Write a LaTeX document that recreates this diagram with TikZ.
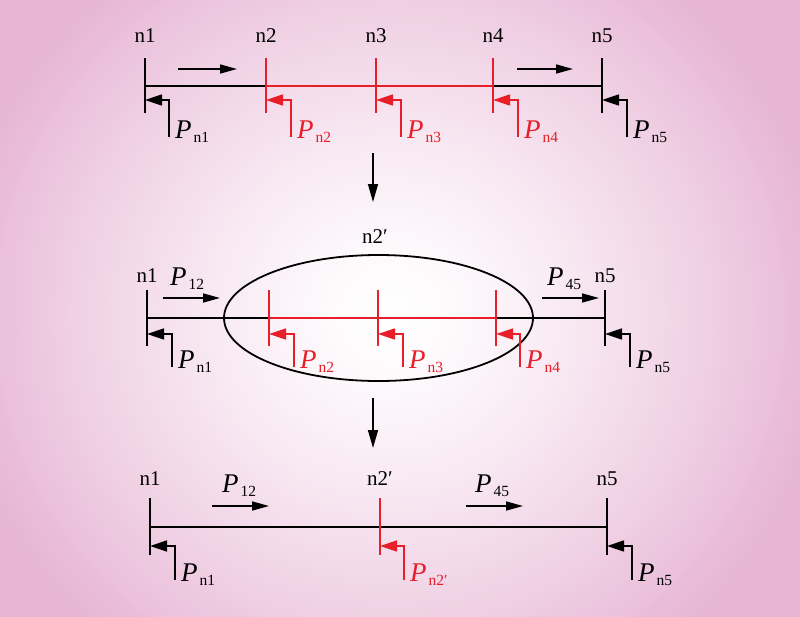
\documentclass[tikz,border=0pt]{standalone}
\usepackage{fontspec}
\setmainfont{Liberation Serif}
\usetikzlibrary{arrows.meta,shapes.geometric}
\definecolor{bgpink}{RGB}{231,182,213}
\definecolor{pred}{RGB}{232,30,40}
\newcommand{\Plab}[1]{{\fontsize{27}{27}\selectfont\itshape P}\kern2pt\raisebox{-4pt}{\fontsize{15.5}{15.5}\selectfont #1}}
\newcommand{\pr}{\char"2032}
\begin{document}
\begin{tikzpicture}[x=1pt,y=1pt,
  bus/.style={line width=2pt},
  busv/.style={line width=1.8pt},
  flow/.style={line width=1.6pt,-{Triangle[length=17pt,width=9pt]}},
  inj/.style={line width=1.6pt,-{Triangle[length=17pt,width=11pt]}},
  downarr/.style={line width=1.6pt,-{Triangle[length=18pt,width=10pt]}},
  nlab/.style={anchor=base,inner sep=0pt,font=\fontsize{21}{21}\selectfont},
  plab/.style={anchor=base west,inner sep=0pt},
  hot/.style={color=pred}]
\useasboundingbox (0,0) rectangle (800,-616);
% background radial gradient
\fill[bgpink] (-10,10) rectangle (810,-626);
\foreach \i in {80,79,...,1}{
  \pgfmathsetmacro\f{\i/80}
  \pgfmathsetmacro\m{100*(\f)^1.35}
  \fill[bgpink!\m!white] (390,-315) ellipse [x radius={440*\f}, y radius={425*\f}];
}
\begin{scope}[y=-1pt]
% ---------------- top row ----------------
\coordinate (T1) at (145,86);
\coordinate (T2) at (266,86);
\coordinate (T3) at (376,86);
\coordinate (T4) at (493,86);
\coordinate (T5) at (602,86);
\draw[bus] (T1) -- (T2);
\draw[bus,hot] (T2) -- (T4);
\draw[bus] (T4) -- (T5);
\draw[busv] ([yshift=28pt]T1) -- ([yshift=-27pt]T1);
\draw[busv,hot] ([yshift=28pt]T2) -- ([yshift=-27pt]T2);
\draw[busv,hot] ([yshift=28pt]T3) -- ([yshift=-27pt]T3);
\draw[busv,hot] ([yshift=28pt]T4) -- ([yshift=-27pt]T4);
\draw[busv] ([yshift=28pt]T5) -- ([yshift=-27pt]T5);
\node[nlab] (lT1) at ([yshift=44pt]T1) {n1};
\node[nlab] (lT2) at ([yshift=44pt]T2) {n2};
\node[nlab] (lT3) at ([yshift=44pt]T3) {n3};
\node[nlab] (lT4) at ([yshift=44pt]T4) {n4};
\node[nlab] (lT5) at ([yshift=44pt]T5) {n5};
\coordinate (fTa) at (178,69); \coordinate (fTb) at (237,69);
\coordinate (fTc) at (517,69); \coordinate (fTd) at (573,69);
\draw[flow] (fTa) -- (fTb);
\draw[flow] (fTc) -- (fTd);
% injections
\coordinate (iT1) at (169,137); \coordinate (cT1) at (169,100);
\coordinate (iT2) at (291,137); \coordinate (cT2) at (291,100);
\coordinate (iT3) at (401,137); \coordinate (cT3) at (401,100);
\coordinate (iT4) at (518,137); \coordinate (cT4) at (518,100);
\coordinate (iT5) at (627,137); \coordinate (cT5) at (627,100);
\draw[inj] (iT1) -- (cT1) -- (cT1 -| T1);
\draw[inj,hot] (iT2) -- (cT2) -- (cT2 -| T2);
\draw[inj,hot] (iT3) -- (cT3) -- (cT3 -| T3);
\draw[inj,hot] (iT4) -- (cT4) -- (cT4 -| T4);
\draw[inj] (iT5) -- (cT5) -- (cT5 -| T5);
\node[plab] (pT1) at ([xshift=6pt,yshift=-1pt]iT1) {\Plab{n1}};
\node[plab,hot] (pT2) at ([xshift=6pt,yshift=-1pt]iT2) {\Plab{n2}};
\node[plab,hot] (pT3) at ([xshift=6pt,yshift=-1pt]iT3) {\Plab{n3}};
\node[plab,hot] (pT4) at ([xshift=6pt,yshift=-1pt]iT4) {\Plab{n4}};
\node[plab] (pT5) at ([xshift=6pt,yshift=-1pt]iT5) {\Plab{n5}};

% down arrow 1
\coordinate (d1a) at (373,153); \coordinate (d1b) at (373,202);
\draw[downarr] (d1a) -- (d1b);

% ---------------- middle row ----------------
\coordinate (M1) at (147,318);
\coordinate (M2) at (269,318);
\coordinate (M3) at (378,318);
\coordinate (M4) at (496,318);
\coordinate (M5) at (605,318);
\draw[bus] (M1) -- (M2);
\draw[bus,hot] (M2) -- (M4);
\draw[bus] (M4) -- (M5);
\draw[busv] ([yshift=28pt]M1) -- ([yshift=-28pt]M1);
\draw[busv,hot] ([yshift=28pt]M2) -- ([yshift=-28pt]M2);
\draw[busv,hot] ([yshift=28pt]M3) -- ([yshift=-28pt]M3);
\draw[busv,hot] ([yshift=28pt]M4) -- ([yshift=-28pt]M4);
\draw[busv] ([yshift=28pt]M5) -- ([yshift=-28pt]M5);
\node[nlab] (lM1) at ([yshift=36pt]M1) {n1};
\node[nlab] (lM5) at ([yshift=36pt]M5) {n5};
\node[draw,ellipse,line width=1.8pt,minimum width=309pt,minimum height=126pt,inner sep=0pt] (E) at (378.5,318) {};
\node[nlab] (lE) at (375,243) {n2\pr};
\coordinate (fMa) at (163,298); \coordinate (fMb) at (220,298);
\coordinate (fMc) at (542,298); \coordinate (fMd) at (599,298);
\draw[flow] (fMa) -- (fMb);
\draw[flow] (fMc) -- (fMd);
\node[plab] (p12M) at (170,285) {\Plab{12}};
\node[plab] (p45M) at (547,285) {\Plab{45}};
\coordinate (iM1) at (172,367); \coordinate (cM1) at (172,334);
\coordinate (iM2) at (294,367); \coordinate (cM2) at (294,334);
\coordinate (iM3) at (403,367); \coordinate (cM3) at (403,334);
\coordinate (iM4) at (520,367); \coordinate (cM4) at (520,334);
\coordinate (iM5) at (630,367); \coordinate (cM5) at (630,334);
\draw[inj] (iM1) -- (cM1) -- (cM1 -| M1);
\draw[inj,hot] (iM2) -- (cM2) -- (cM2 -| M2);
\draw[inj,hot] (iM3) -- (cM3) -- (cM3 -| M3);
\draw[inj,hot] (iM4) -- (cM4) -- (cM4 -| M4);
\draw[inj] (iM5) -- (cM5) -- (cM5 -| M5);
\node[plab] (pM1) at ([xshift=6pt,yshift=-1pt]iM1) {\Plab{n1}};
\node[plab,hot] (pM2) at ([xshift=6pt,yshift=-1pt]iM2) {\Plab{n2}};
\node[plab,hot] (pM3) at ([xshift=6pt,yshift=-1pt]iM3) {\Plab{n3}};
\node[plab,hot] (pM4) at ([xshift=6pt,yshift=-1pt]iM4) {\Plab{n4}};
\node[plab] (pM5) at ([xshift=6pt,yshift=-1pt]iM5) {\Plab{n5}};

% down arrow 2
\coordinate (d2a) at (373,398); \coordinate (d2b) at (373,448);
\draw[downarr] (d2a) -- (d2b);

% ---------------- bottom row ----------------
\coordinate (B1) at (150,527);
\coordinate (B2) at (380,527);
\coordinate (B5) at (607,527);
\draw[bus] (B1) -- (B5);
\draw[busv] ([yshift=29pt]B1) -- ([yshift=-28pt]B1);
\draw[busv,hot] ([yshift=29pt]B2) -- ([yshift=-28pt]B2);
\draw[busv] ([yshift=29pt]B5) -- ([yshift=-28pt]B5);
\node[nlab] (lB1) at ([yshift=42pt]B1) {n1};
\node[nlab] (lB2) at ([yshift=42pt]B2) {n2\pr};
\node[nlab] (lB5) at ([yshift=42pt]B5) {n5};
\coordinate (fBa) at (212,506); \coordinate (fBb) at (269,506);
\coordinate (fBc) at (466,506); \coordinate (fBd) at (523,506);
\draw[flow] (fBa) -- (fBb);
\draw[flow] (fBc) -- (fBd);
\node[plab] (p12B) at (222,492) {\Plab{12}};
\node[plab] (p45B) at (475,492) {\Plab{45}};
\coordinate (iB1) at (175,580); \coordinate (cB1) at (175,546);
\coordinate (iB2) at (404,580); \coordinate (cB2) at (404,546);
\coordinate (iB5) at (632,580); \coordinate (cB5) at (632,546);
\draw[inj] (iB1) -- (cB1) -- (cB1 -| B1);
\draw[inj,hot] (iB2) -- (cB2) -- (cB2 -| B2);
\draw[inj] (iB5) -- (cB5) -- (cB5 -| B5);
\node[plab] (pB1) at ([xshift=6pt,yshift=-1pt]iB1) {\Plab{n1}};
\node[plab,hot] (pB2) at ([xshift=6pt,yshift=-1pt]iB2) {\Plab{n2\pr}};
\node[plab] (pB5) at ([xshift=6pt,yshift=-1pt]iB5) {\Plab{n5}};
\end{scope}
\end{tikzpicture}
\end{document}
